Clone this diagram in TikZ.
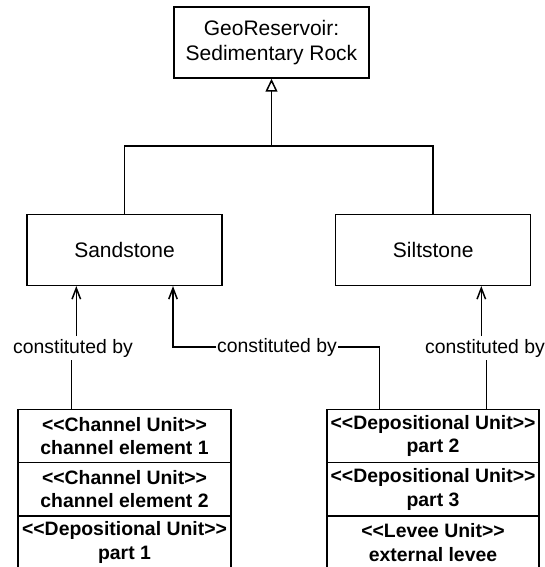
\documentclass[tikz,border=0pt]{standalone}
\usepackage{fontspec}
\setmainfont{Liberation Sans}[Ligatures=TeXOff]
\usetikzlibrary{arrows.meta}
\begin{document}
\begin{tikzpicture}[x=1pt, y=-1pt, line width=1.5pt,
  classbox/.style={draw, fill=white, inner sep=0pt, align=center,
    minimum width=195pt, minimum height=71pt,
    font=\fontsize{21}{25}\selectfont},
  unitcell/.style={draw, fill=white, inner sep=0pt, align=center,
    minimum width=213pt, minimum height=53.3pt,
    font=\fontsize{19.4}{23.5}\selectfont\bfseries},
  lbl/.style={inner xsep=0pt, inner ysep=2pt, font=\fontsize{19.4}{23}\selectfont},
  arr/.style={-{Straight Barb[length=11pt, width=8.5pt, line width=1.5pt]}},
  gen/.style={-{Triangle[open, length=13pt, width=12pt, line width=1.5pt, fill=white]}},
]
\useasboundingbox (0,0) rectangle (544,567);

% classes
\node[classbox] (rock) at (271.5,42.5) {GeoReservoir:\\Sedimentary Rock};
\node[classbox] (sand) at (124.5,249.8) {Sandstone};
\node[classbox] (silt) at (433.2,249.8) {Siltstone};

% generalisation
\coordinate (join) at (271.5,146);
\draw (sand.north) |- (join) -| (silt.north);
\draw[gen] (join) -- (rock.south);

% unit stacks
\node[unitcell] (ce1) at (124.5,436)   {<<Channel Unit>>\\channel element 1};
\node[unitcell] (ce2) at (124.5,489.3) {<<Channel Unit>>\\channel element 2};
\node[unitcell] (dp1) at (124.5,542.6) {<<Depositional Unit>>\\part 1};
\node[unitcell, minimum width=212pt] (dp2) at (433,436)   {<<Depositional Unit>>\\part 2};
\node[unitcell, minimum width=212pt] (dp3) at (433,489.3) {<<Depositional Unit>>\\part 3};
\node[unitcell, minimum width=212pt] (lev) at (433,542.6) {<<Levee Unit>>\\external levee};

% constituted-by links
\node[lbl] (l1) at (73,348) {constituted by};
\node[lbl] (l2) at (277,347) {constituted by};
\node[lbl] (l3) at (485,348) {constituted by};

\coordinate (x1a) at (76.3,0);
\coordinate (x1b) at (71.3,0);
\draw[arr] (l1.north -| x1a) -- (sand.south -| x1a);
\draw (ce1.north -| x1b) -- (l1.south -| x1b);

\coordinate (x2a) at (173,0);
\coordinate (x2b) at (379.7,0);
\draw (dp2.north -| x2b) |- (l2.east);
\draw[arr] (l2.west) -| (sand.south -| x2a);

\coordinate (x3a) at (481.3,0);
\coordinate (x3b) at (486.3,0);
\draw[arr] (l3.north -| x3a) -- (silt.south -| x3a);
\draw (dp2.north -| x3b) -- (l3.south -| x3b);
\end{tikzpicture}
\end{document}
